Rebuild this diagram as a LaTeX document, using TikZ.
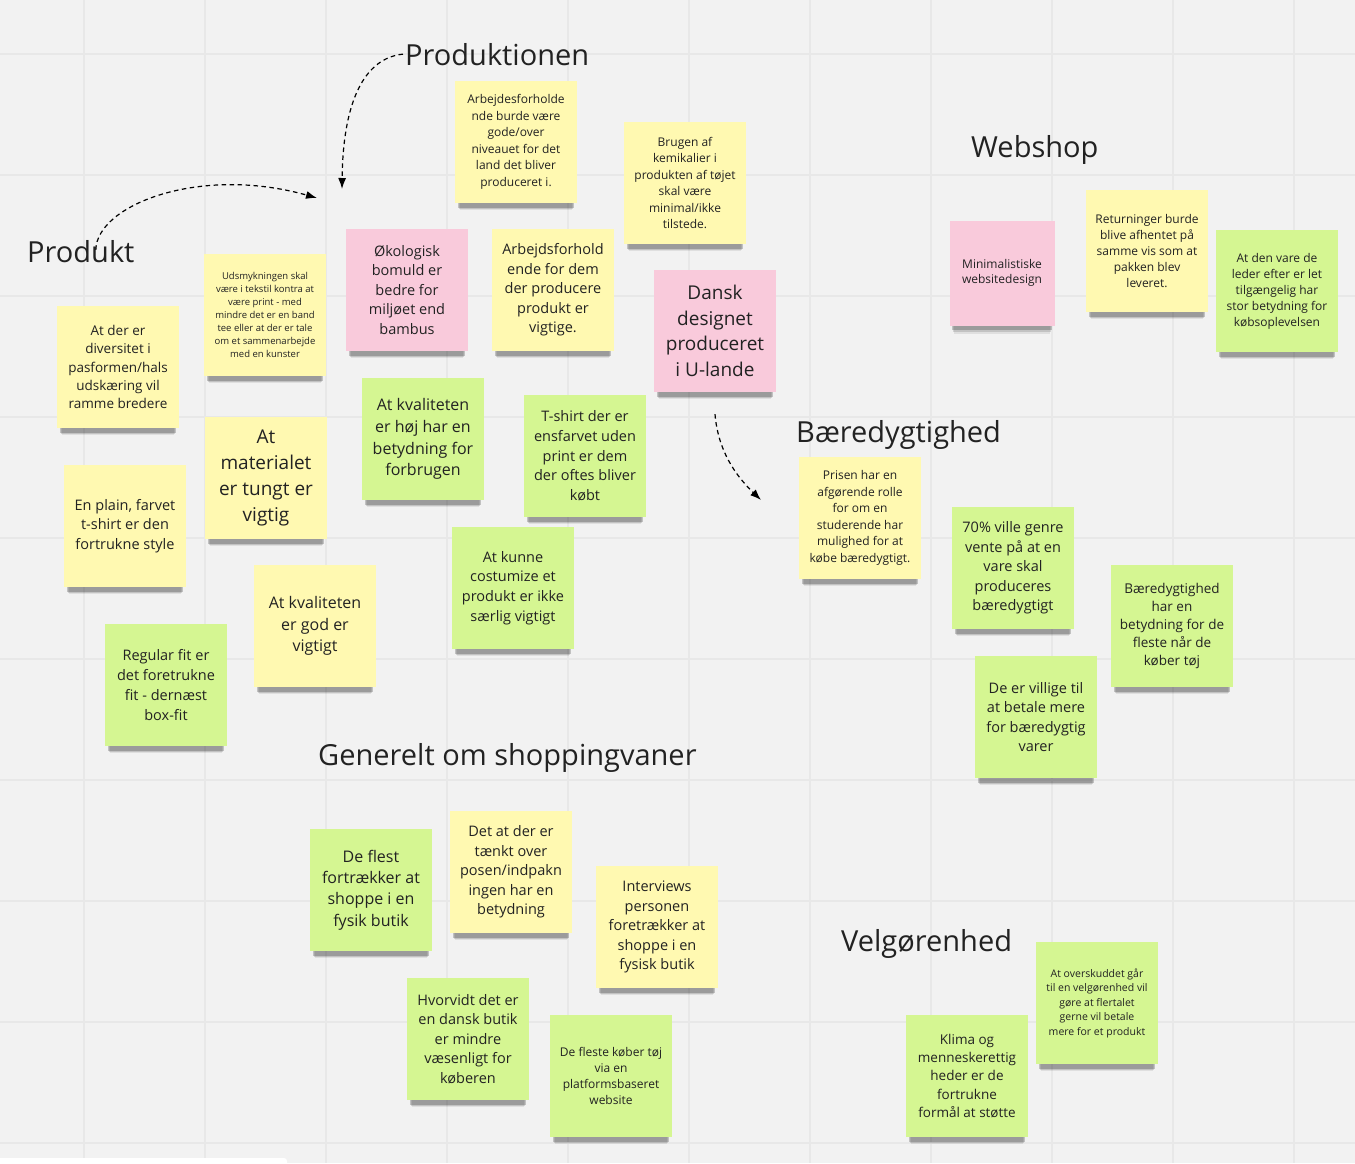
\documentclass[tikz,border=0pt]{standalone}
\usepackage{fontspec}
\setmainfont{Open Sans}
\usetikzlibrary{arrows.meta,shadows}
\definecolor{boardbg}{HTML}{F2F2F2}
\definecolor{boardgrid}{HTML}{E8E8E8}
\definecolor{noteyellow}{HTML}{FFF9B1}
\definecolor{notegreen}{HTML}{D5F692}
\definecolor{notepink}{HTML}{F9CADB}
\definecolor{inktext}{HTML}{222222}
\begin{document}
\begin{tikzpicture}[x=1pt, y=-1pt,
   note/.style={minimum width=122pt, minimum height=122pt, inner sep=3pt, align=center, text=inktext,
     general shadow={fill=black, opacity=.08, shadow yshift=-14pt, shadow scale=.91},
     general shadow={fill=black, opacity=.13, shadow yshift=-11pt, shadow scale=.93},
     general shadow={fill=black, opacity=.2, shadow yshift=-8pt, shadow scale=.95}},
   yellownote/.style={note, fill=noteyellow},
   greennote/.style={note, fill=notegreen},
   pinknote/.style={note, fill=notepink},
   fs/.style 2 args={font=\fontsize{#1}{#2}\selectfont},
   heading/.style={anchor=base west, inner sep=0pt, text=inktext, font=\fontsize{29}{34}\selectfont},
   link/.style={dash pattern=on 4.5pt off 3.5pt, line width=1.2pt, -{Latex[length=11pt,width=8pt]}}]
   \useasboundingbox (0,0) rectangle (1355,1163);
   \fill[boardbg] (0,0) rectangle (1355,1163);
   \foreach \gx in {84,205,...,1294} \draw[boardgrid, line width=1.3pt] (\gx,0) -- (\gx,1163);
   \foreach \gy in {54,175,...,1143} \draw[boardgrid, line width=1.3pt] (0,\gy) -- (1355,\gy);
   \fill[white, rounded corners=3pt] (-6,1158) rectangle (287,1175);
   % headings
   \node[heading] (produkt) at (27,262) {Produkt};
   \node[heading] (produktionen) at (405,65) {Produktionen};
   \node[heading] (webshop) at (971,157) {Webshop};
   \node[heading] (baeredygtighed) at (796,442) {Bæredygtighed};
   \node[heading] (generelt) at (318,765) {Generelt om shoppingvaner};
   \node[heading] (velgoerenhed) at (841,951) {Velgørenhed};
   % produktionen
   \node[yellownote, fs={12}{16.5}] (arbejdesforhold) at (516,142) {Arbejdesforholde\\nde burde være\\gode/over\\niveauet for det\\land det bliver\\produceret i.};
   \node[yellownote, fs={12}{16.4}] (kemikalier) at (685,183) {Brugen af\\kemikalier i\\produkten af tøjet\\skal være\\minimal/ikke\\tilstede.};
   \node[pinknote, fs={14.5}{19.5}] (bomuld) at (407,290) {Økologisk\\bomuld er\\bedre for\\miljøet end\\bambus};
   \node[yellownote, fs={14.5}{19.5}] (arbejdsforhold) at (553,290) {Arbejdsforhold\\ende for dem\\der producere\\produkt er\\vigtige.};
   \node[pinknote, fs={19}{25.5}] (dansk) at (715,331) {Dansk\\designet\\produceret\\i U-lande};
   % produkt
   \node[yellownote, fs={9.5}{13}] (udsmykning) at (265,315) {Udsmykningen skal\\være i tekstil kontra at\\være print - med\\mindre det er en band\\tee eller at der er tale\\om et sammenarbejde\\med en kunster};
   \node[yellownote, fs={13.5}{18.2}] (diversitet) at (118,367) {At der er\\diversitet i\\pasformen/hals\\udskæring vil\\ramme bredere};
   \node[yellownote, fs={19}{25.7}] (materiale) at (266,478) {At\\materialet\\er tungt er\\vigtig};
   \node[greennote, fs={16}{21.7}] (kvalitethoej) at (423,439) {At kvaliteten\\er høj har en\\betydning for\\forbrugen};
   \node[greennote, fs={14.5}{19.7}] (ensfarvet) at (585,456) {T-shirt der er\\ensfarvet uden\\print er dem\\der oftes bliver\\købt};
   \node[yellownote, fs={14.5}{19.5}] (plain) at (125,526) {En plain, farvet\\t-shirt er den\\fortrukne style};
   \node[greennote, fs={14.5}{19.7}] (costumize) at (513,588) {At kunne\\costumize et\\produkt er ikke\\særlig vigtigt};
   \node[yellownote, fs={16}{21.5}] (kvalitetgod) at (315,626) {At kvaliteten\\er god er\\vigtigt};
   \node[greennote, fs={14.5}{19.7}] (regularfit) at (166,685) {Regular fit er\\det foretrukne\\fit - dernæst\\box-fit};
   % webshop
   \node[pinknote, minimum width=105pt, minimum height=105pt, fs={12}{15.7}] (minimal) at (1002,273) {Minimalistiske\\websitedesign};
   \node[yellownote, fs={12}{16}] (returning) at (1147,251) {Returninger burde\\blive afhentet på\\samme vis som at\\pakken blev\\leveret.};
   \node[greennote, fs={12}{16}] (tilgaengelig) at (1277,291) {At den vare de\\leder efter er let\\tilgængelig har\\stor betydning for\\købsoplevelsen};
   % baeredygtighed
   \node[yellownote, fs={12}{16.5}] (prisen) at (860,518) {Prisen har en\\afgørende rolle\\for om en\\studerende har\\mulighed for at\\købe bæredygtigt.};
   \node[greennote, fs={14.5}{19.4}] (vente) at (1013,568) {70\% ville genre\\vente på at en\\vare skal\\produceres\\bæredygtigt};
   \node[greennote, fs={13.5}{18.2}] (betydning) at (1172,626) {Bæredygtighed\\har en\\betydning for de\\fleste når de\\køber tøj};
   \node[greennote, fs={14.5}{19.5}] (villige) at (1036,717) {De er villige til\\at betale mere\\for bæredygtig\\varer};
   % generelt om shoppingvaner
   \node[greennote, fs={16}{21.3}] (fysik) at (371,890) {De flest\\fortrækker at\\shoppe i en\\fysik butik};
   \node[yellownote, fs={14.5}{19.5}] (posen) at (511,872) {Det at der er\\tænkt over\\posen/indpakn\\ingen har en\\betydning};
   \node[yellownote, fs={14.5}{19.5}] (interviews) at (657,927) {Interviews\\personen\\foretrækker at\\shoppe i en\\fysisk butik};
   \node[greennote, fs={14.5}{19.5}] (danskbutik) at (468,1039) {Hvorvidt det er\\en dansk butik\\er mindre\\væsenligt for\\køberen};
   \node[greennote, fs={12}{16}] (platform) at (611,1076) {De fleste køber tøj\\via en\\platformsbaseret\\website};
   % velgoerenhed
   \node[greennote, fs={10.5}{14.5}] (overskud) at (1097,1003) {At overskuddet går\\til en velgørenhed vil\\gøre at flertalet\\gerne vil betale\\mere for et produkt};
   \node[greennote, fs={13.5}{18.3}] (klima) at (967,1076) {Klima og\\menneskerettig\\heder er de\\fortrukne\\formål at støtte};
   % dashed arrows
   \coordinate (produkttip) at (317,198);
   \coordinate (produktionentip) at (342,189);
   \coordinate (dansktip) at (761,500);
   \draw[link] ([xshift=15pt, yshift=-10pt]produkt.north) .. controls +(1,-45) and (200,165) .. (produkttip);
   \draw[link] ([xshift=-2pt]produktionen.west) .. controls (365,58) and (343,100) .. (produktionentip);
   \draw[link] ([yshift=-22pt]dansk.south) .. controls +(3,36) and (735,475) .. (dansktip);
\end{tikzpicture}
\end{document}
